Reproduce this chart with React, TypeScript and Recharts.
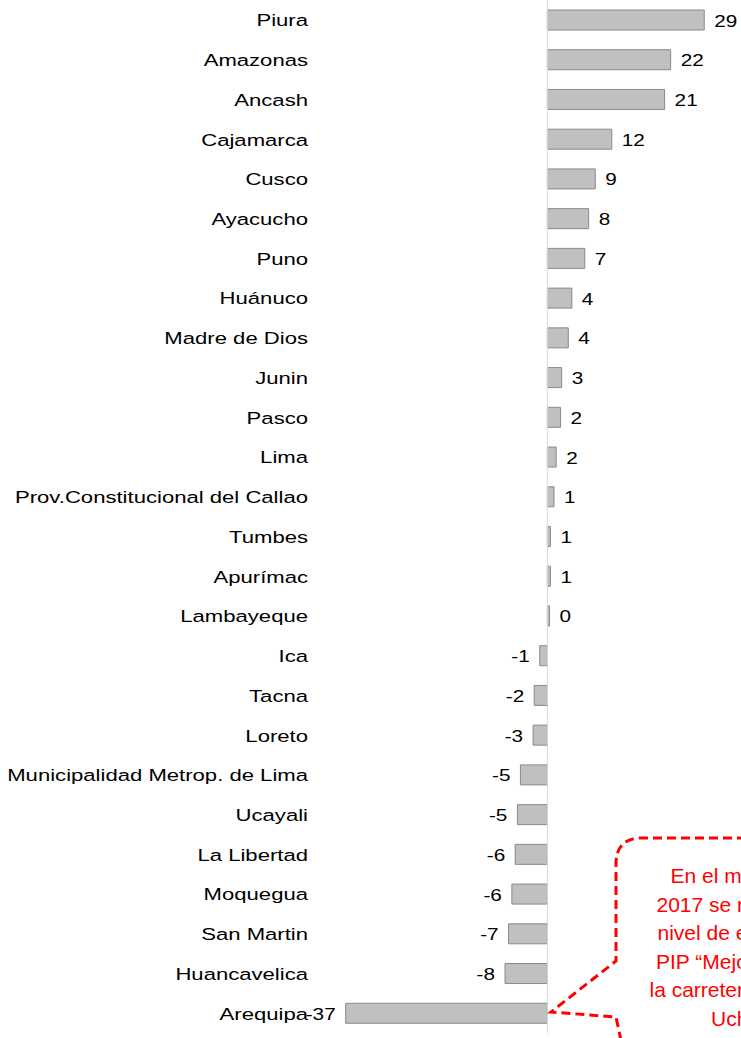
import React from "react";
import { BarChart, Bar, XAxis, YAxis, ReferenceLine, LabelList } from "recharts";

const categories = [
  "Piura", "Amazonas", "Ancash", "Cajamarca", "Cusco", "Ayacucho", "Puno", "Huánuco",
  "Madre de Dios", "Junin", "Pasco", "Lima", "Prov.Constitucional del Callao", "Tumbes",
  "Apurímac", "Lambayeque", "Ica", "Tacna", "Loreto", "Municipalidad Metrop. de Lima",
  "Ucayali", "La Libertad", "Moquegua", "San Martin", "Huancavelica", "Arequipa",
];

const values = [
  28.5, 22.4, 21.3, 11.7, 8.7, 7.5, 6.8, 4.45, 3.8, 2.6, 2.4, 1.6, 1.2, 0.55, 0.55, 0.4,
  -1.4, -2.4, -2.6, -4.9, -5.45, -5.85, -6.45, -7.05, -7.7, -36.65,
];

const calloutLines = [
  "En el mes de octubre del",
  "2017 se registró el mayor",
  "nivel de ejecución en el",
  "PIP “Mejoramiento de",
  "la carretera Arequipa -",
  "Uchumayo”",
];
const calloutStarts = [670.5, 656.5, 657.5, 656, 649.5, 711];

const data = categories.map((name, i) => ({ name, value: values[i] }));

const FONT = "'Liberation Sans', Arial, sans-serif";

const CategoryTick = (props: any) => {
  const { x, y, payload } = props;
  return (
    <g transform={`translate(${x},${y})`}>
      <text
        transform="scale(1.3,1)"
        textAnchor="end"
        dy={6.5}
        fontSize={17}
        fontFamily={FONT}
        fill="#000"
      >
        {payload.value}
      </text>
    </g>
  );
};

const ValueLabel = (props: any) => {
  const { x, y, width, height, value } = props;
  const v = Number(value);
  const left = Math.min(x, x + width);
  const right = Math.max(x, x + width);
  const cy = y + height / 2;
  const neg = v < 0;
  const tx = neg ? left - 10 : right + 10;
  return (
    <g transform={`translate(${tx},${cy})`}>
      <text
        transform="scale(1.22,1)"
        textAnchor={neg ? "end" : "start"}
        dy={6.5}
        fontSize={17}
        fontFamily={FONT}
        fill="#000"
      >
        {String(Math.round(v))}
      </text>
    </g>
  );
};

export default function App() {
  return (
    <div style={{ position: "absolute", left: 0, top: 0, width: 741, height: 1038, background: "#fff", overflow: "hidden" }}>
      <BarChart
        width={741}
        height={1038}
        data={data}
        layout="vertical"
        margin={{ top: 0, right: 1, bottom: 5, left: 0 }}
      >
        <XAxis type="number" domain={[-39.5, 35]} hide allowDataOverflow />
        <YAxis
          type="category"
          dataKey="name"
          width={330}
          axisLine={false}
          tickLine={false}
          tickSize={0}
          tickMargin={22}
          interval={0}
          tick={<CategoryTick />}
        />
        <ReferenceLine x={0} stroke="#d9d9d9" strokeWidth={1} />
        <Bar
          dataKey="value"
          fill="#c0c0c0"
          stroke="#8a8a8a"
          strokeWidth={1}
          barSize={20}
          isAnimationActive={false}
        >
          <LabelList dataKey="value" content={<ValueLabel />} />
        </Bar>
      </BarChart>
      <svg
        width={741}
        height={1038}
        style={{ position: "absolute", left: 0, top: 0, pointerEvents: "none" }}
      >
        <path
          d="M 760 838 L 642 838 Q 616 838 616 864 L 616 961 L 551 1012 L 616 1017 L 622 1045"
          fill="none"
          stroke="#ff0000"
          strokeWidth={3}
          strokeDasharray="9 5"
        />
        {calloutLines.map((line, i) => (
          <text
            key={i}
            x={calloutStarts[i]}
            y={883 + i * 28.5}
            fontSize={21}
            fontFamily={FONT}
            fill="#ff0000"
          >
            {line}
          </text>
        ))}
      </svg>
    </div>
  );
}
